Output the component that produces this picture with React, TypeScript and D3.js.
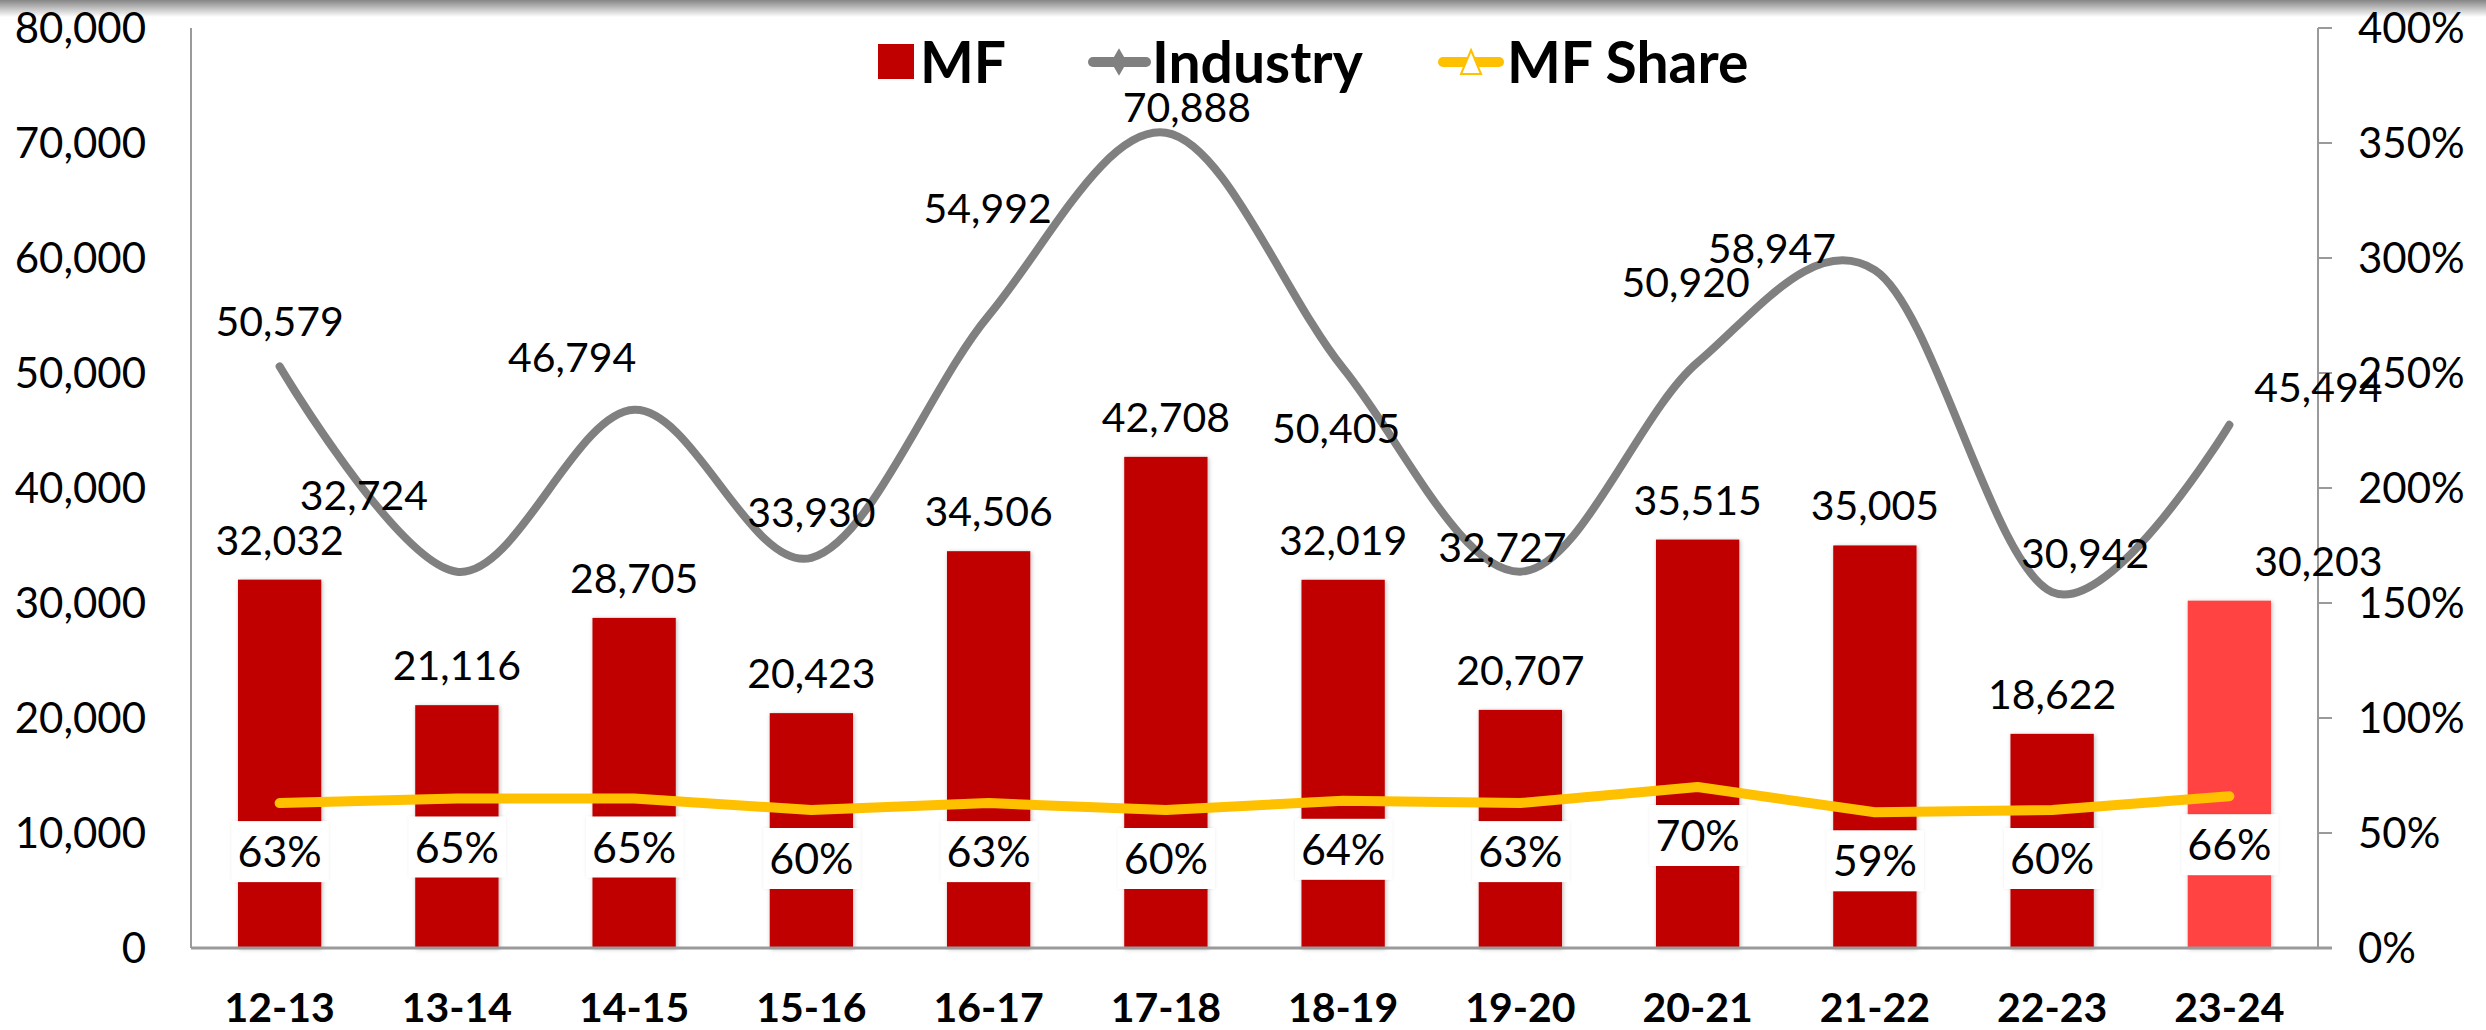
import { useRef, useEffect } from 'react';
import * as d3 from 'd3';

const categories = ['12-13', '13-14', '14-15', '15-16', '16-17', '17-18', '18-19', '19-20', '20-21', '21-22', '22-23', '23-24'];
const mfValues = [32032, 21116, 28705, 20423, 34506, 42708, 32019, 20707, 35515, 35005, 18622, 30203];
const industryValues = [50579, 32724, 46794, 33930, 54992, 70888, 50405, 32727, 50920, 58947, 30942, 45494];
const mfShare = [0.63, 0.65, 0.65, 0.6, 0.63, 0.6, 0.64, 0.63, 0.7, 0.59, 0.6, 0.66];
const leftTicks = [0, 10000, 20000, 30000, 40000, 50000, 60000, 70000, 80000];
const rightTicks = [0, 0.5, 1, 1.5, 2, 2.5, 3, 3.5, 4];

// hand-dragged label nudges (px, from the data point)
const industryLabelNudge = [[0, -45], [-93, -77], [-62, -53], [0, -46], [-1, -108], [21, -26], [-7, 60], [-18, -25], [-12, -80], [-103, -22], [33, -39], [89, -38]];
const mfLabelNudgeX = [0, 0, 0, 0, 0, 0, 0, 0, 0, 0, 0, 89];

const FONT = 'Lato, "Open Sans", sans-serif';

function App() {
  const svgRef = useRef(null);
  const width = 2486;
  const height = 1030;

  useEffect(() => {
    document.body.style.margin = '0';
    const margin = { top: 28, right: 168, bottom: 82, left: 191 };
    const svg = d3.select(svgRef.current).attr('viewBox', [0, 0, width, height]);
    svg.selectAll('*').remove();

    const defs = svg.append('defs');
    const grad = defs.append('linearGradient').attr('id', 'topShade').attr('x1', 0).attr('x2', 0).attr('y1', 0).attr('y2', 1);
    grad.append('stop').attr('offset', '0%').attr('stop-color', '#858585');
    grad.append('stop').attr('offset', '100%').attr('stop-color', '#ffffff');
    const shadow = defs.append('filter').attr('id', 'soft').attr('x', '-20%').attr('y', '-20%').attr('width', '140%').attr('height', '140%');
    shadow.append('feDropShadow').attr('dx', 1).attr('dy', 1).attr('stdDeviation', 2).attr('flood-color', '#000').attr('flood-opacity', 0.28);
    const faint = defs.append('filter').attr('id', 'faint').attr('x', '-20%').attr('y', '-20%').attr('width', '140%').attr('height', '140%');
    faint.append('feDropShadow').attr('dx', 0).attr('dy', 0).attr('stdDeviation', 1.5).attr('flood-color', '#000').attr('flood-opacity', 0.08);

    svg.append('rect').attr('width', width).attr('height', height).attr('fill', '#fff');
    svg.append('rect').attr('width', width).attr('height', 17).attr('fill', 'url(#topShade)');

    const x = d3
      .scaleBand()
      .domain(categories)
      .range([margin.left, width - margin.right])
      .paddingInner(0.53)
      .paddingOuter(0.265);
    const yLeft = d3.scaleLinear().domain([0, 80000]).range([height - margin.bottom, margin.top]);
    const yRight = d3.scaleLinear().domain([0, 4]).range([height - margin.bottom, margin.top]);
    const cx = (c) => x(c) + x.bandwidth() / 2;
    const base = height - margin.bottom;
    const axisRight = width - margin.right;
    const fmt = d3.format(',');

    // axes
    svg.append('line').attr('x1', margin.left).attr('x2', margin.left).attr('y1', margin.top).attr('y2', base)
      .attr('stroke', '#9a9a9a').attr('stroke-width', 2);
    svg.append('line').attr('x1', axisRight).attr('x2', axisRight).attr('y1', margin.top).attr('y2', base)
      .attr('stroke', '#9a9a9a').attr('stroke-width', 2);
    svg.append('g').selectAll('line').data(rightTicks).join('line')
      .attr('x1', axisRight).attr('x2', axisRight + 14)
      .attr('y1', (d) => yRight(d)).attr('y2', (d) => yRight(d))
      .attr('stroke', '#9a9a9a').attr('stroke-width', 2);

    svg.append('g').selectAll('text').data(leftTicks).join('text')
      .attr('x', 146).attr('y', (d) => yLeft(d) + 15)
      .attr('text-anchor', 'end').attr('font-family', FONT).attr('font-size', 42).attr('fill', '#000')
      .text((d) => fmt(d));
    svg.append('g').selectAll('text').data(rightTicks).join('text')
      .attr('x', 2358).attr('y', (d) => yRight(d) + 15)
      .attr('font-family', FONT).attr('font-size', 42).attr('fill', '#000')
      .text((d) => `${Math.round(d * 100)}%`);

    // bars
    svg.append('g').attr('filter', 'url(#soft)').selectAll('rect').data(mfValues).join('rect')
      .attr('x', (_, i) => x(categories[i]))
      .attr('y', (d) => yLeft(d))
      .attr('width', x.bandwidth())
      .attr('height', (d) => base - yLeft(d))
      .attr('fill', (_, i) => (i === categories.length - 1 ? '#ff4343' : '#c00000'));

    svg.append('line').attr('x1', margin.left).attr('x2', axisRight + 14).attr('y1', base).attr('y2', base)
      .attr('stroke', '#9a9a9a').attr('stroke-width', 3);

    // industry smoothed line
    const industryLine = d3.line()
      .x((_, i) => cx(categories[i]))
      .y((d) => yLeft(d))
      .curve(d3.curveCardinal.tension(0));
    svg.append('path').datum(industryValues).attr('d', industryLine)
      .attr('fill', 'none').attr('stroke', '#808080').attr('stroke-width', 8).attr('stroke-linecap', 'round');

    // MF share line
    const shareLine = d3.line()
      .x((_, i) => cx(categories[i]))
      .y((d) => yRight(d));
    svg.append('path').datum(mfShare).attr('d', shareLine)
      .attr('fill', 'none').attr('stroke', '#ffc000').attr('stroke-width', 10)
      .attr('stroke-linecap', 'round').attr('stroke-linejoin', 'round');

    // share labels in white boxes
    const shareLabels = svg.append('g').selectAll('g').data(mfShare).join('g')
      .attr('transform', (d, i) => `translate(${cx(categories[i])},${yRight(d) + 49})`);
    shareLabels.append('rect').attr('x', -48).attr('y', -31).attr('width', 97).attr('height', 61)
      .attr('fill', '#fff').attr('filter', 'url(#faint)');
    shareLabels.append('text').attr('y', 15).attr('text-anchor', 'middle')
      .attr('font-family', FONT).attr('font-size', 43).attr('fill', '#000')
      .text((d) => `${Math.round(d * 100)}%`);

    // MF value labels
    svg.append('g').selectAll('text').data(mfValues).join('text')
      .attr('x', (_, i) => cx(categories[i]) + mfLabelNudgeX[i])
      .attr('y', (d) => yLeft(d) - 40 + 15)
      .attr('text-anchor', 'middle').attr('font-family', FONT).attr('font-size', 41).attr('fill', '#000')
      .text((d) => fmt(d));

    // industry value labels
    svg.append('g').selectAll('text').data(industryValues).join('text')
      .attr('x', (_, i) => cx(categories[i]) + industryLabelNudge[i][0])
      .attr('y', (d, i) => yLeft(d) + industryLabelNudge[i][1] + 15)
      .attr('text-anchor', 'middle').attr('font-family', FONT).attr('font-size', 41).attr('fill', '#000')
      .text((d) => fmt(d));

    // x labels
    svg.append('g').selectAll('text').data(categories).join('text')
      .attr('x', (d) => cx(d)).attr('y', 1022)
      .attr('text-anchor', 'middle').attr('font-family', FONT).attr('font-weight', 700).attr('font-size', 41).attr('fill', '#000')
      .text((d) => d);

    // legend
    const legend = svg.append('g').attr('font-family', FONT).attr('font-weight', 700).attr('font-size', 57).attr('fill', '#000');
    legend.append('rect').attr('x', 878).attr('y', 44).attr('width', 36).attr('height', 35).attr('fill', '#c00000');
    legend.append('text').attr('x', 920).attr('y', 83).text('MF');
    legend.append('line').attr('x1', 1093).attr('x2', 1146).attr('y1', 62).attr('y2', 62)
      .attr('stroke', '#808080').attr('stroke-width', 10).attr('stroke-linecap', 'round');
    legend.append('path').attr('d', d3.symbol(d3.symbolDiamond, 220)()).attr('transform', 'translate(1119,62)').attr('fill', '#808080');
    legend.append('text').attr('x', 1152).attr('y', 83).text('Industry');
    legend.append('line').attr('x1', 1443).attr('x2', 1499).attr('y1', 62).attr('y2', 62)
      .attr('stroke', '#ffc000').attr('stroke-width', 10).attr('stroke-linecap', 'round');
    legend.append('path').attr('d', 'M1471,50 L1481,74 L1461,74 Z').attr('fill', '#fff').attr('stroke', '#ffc000').attr('stroke-width', 2);
    legend.append('text').attr('x', 1507).attr('y', 83).text('MF Share');
  }, []);

  return <svg ref={svgRef} width={width} height={height} style={{ position: 'absolute', left: 0, top: 0, display: 'block' }}></svg>;
}

export default App;
